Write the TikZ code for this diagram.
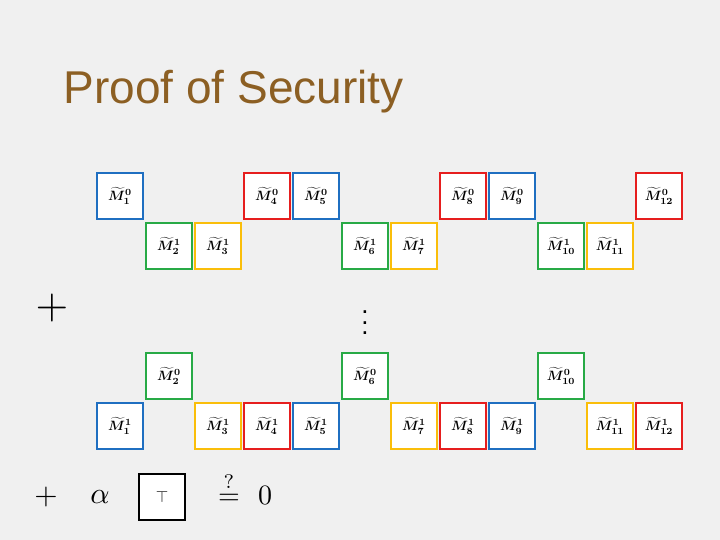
\documentclass[tikz,border=0pt]{standalone}
\usepackage{amsmath, amssymb}
\usepackage{fontspec}
\setmainfont{Liberation Sans}
\usepackage{tikz}
\usetikzlibrary{positioning}
\definecolor{mblue}{RGB}{31,111,193}
\definecolor{mred}{RGB}{230,30,30}
\definecolor{mgreen}{RGB}{40,170,70}
\definecolor{myellow}{RGB}{250,190,10}
\definecolor{titlebrown}{RGB}{140,95,35}
\tikzset{
  mbox/.style={draw=#1, line width=2.5pt, minimum size=46pt, inner sep=0pt, fill=white},
  bigmath/.style={scale=#1, inner sep=0pt},
}
\newcommand{\Mt}[2]{\scalebox{1.35}{$\boldsymbol{\widetilde{M}_{#1}^{#2}}$}}
\begin{document}
\begin{tikzpicture}[x=1pt, y=-1pt]
    \fill[gray!12] (0,0) rectangle (720,540);
    \useasboundingbox (0,0) rectangle (720,540);
    \node[anchor=base west, text=titlebrown, font=\fontsize{46}{50}\selectfont] (title) at (60,104) {Proof of Security};

    % upper rows
    \foreach \c/\k/\col in {1/1/mblue, 4/4/mred, 5/5/mblue, 8/8/mred, 9/9/mblue, 12/12/mred}
        \node[mbox=\col] (a\k) at ({96+49*(\c-1)+24}, 196) {\Mt{\k}{0}};
    \foreach \c/\k/\col in {2/2/mgreen, 3/3/myellow, 6/6/mgreen, 7/7/myellow, 10/10/mgreen, 11/11/myellow}
        \node[mbox=\col] (b\k) at ({96+49*(\c-1)+24}, 246) {\Mt{\k}{1}};

    \node[bigmath=4.2] (plus1) at (52,308) {$+$};
    \node[bigmath=2.6] (dots) at (365,315) {$\vdots$};

    % lower rows
    \foreach \c/\k/\col in {2/2/mgreen, 6/6/mgreen, 10/10/mgreen}
        \node[mbox=\col] (c\k) at ({96+49*(\c-1)+24}, 376) {\Mt{\k}{0}};
    \foreach \c/\k/\col in {1/1/mblue, 3/3/myellow, 4/4/mred, 5/5/mblue, 7/7/myellow, 8/8/mred, 9/9/mblue, 11/11/myellow, 12/12/mred}
        \node[mbox=\col] (d\k) at ({96+49*(\c-1)+24}, 426) {\Mt{\k}{1}};

    % bottom line
    \node[bigmath=3] (plus2) at (46,497) {$+$};
    \node[bigmath=3] (alpha) at (100,497) {$\alpha$};
    \node[draw=black, line width=2.5pt, minimum size=46pt, inner sep=0pt, fill=white] (top) at (162,497) {\scalebox{1.6}{$\top$}};
    \node[bigmath=2.8, anchor=base] (eq) at (229,504) {$\overset{?}{=}$};
    \node[bigmath=2.8, anchor=base] (zero) at (265,504) {$0$};
\end{tikzpicture}
\end{document}
